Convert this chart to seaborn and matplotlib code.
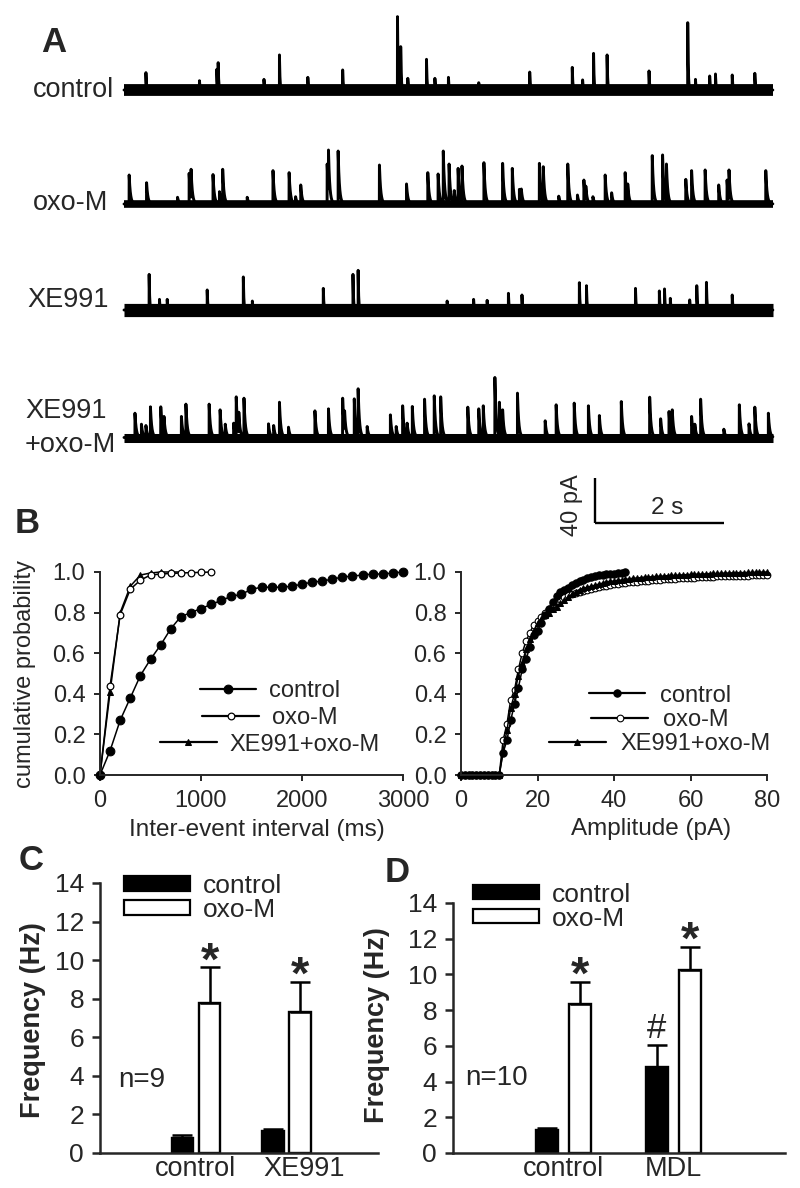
import numpy as np
import pandas as pd
import matplotlib
matplotlib.use("Agg")
import matplotlib.pyplot as plt
import seaborn as sns
from matplotlib.patches import Patch
from matplotlib.ticker import FormatStrFormatter
from matplotlib.transforms import ScaledTranslation

# ------------------------------------------------------------------ data
# Panel A : spontaneous events (time in s, peak amplitude in pA above baseline)
TRACE_DURATION = 10.06
TRACE_NAMES = ["control", "oxo-M", "XE991", "XE991\n+oxo-M"]

CONTROL_T = [0.34, 1.17, 1.44, 1.46, 2.17, 2.41, 2.85, 3.39, 4.24, 4.29, 4.40, 4.69, 4.82,
             5.03, 5.50, 6.29, 6.95, 7.11, 7.28, 7.49, 8.14, 8.74, 8.86, 9.08, 9.17, 9.43, 9.78]
CONTROL_A = [15.5, 8.3, 18.5, 24.4, 9.5, 31.3, 11.3, 17.9, 65.5, 38.7, 10.4, 27.4, 10.4,
             11.3, 6.5, 16.0, 20.2, 9.0, 32.7, 31.3, 17.0, 60.1, 9.5, 12.5, 14.3, 13.4, 14.9]

OXO_T = [0.08, 0.35, 0.83, 1.01, 1.04, 1.38, 1.48, 1.53, 1.91, 2.31, 2.56, 2.66, 2.74,
         3.15, 3.17, 3.32, 3.96, 4.38, 4.71, 4.87, 4.95, 5.04, 5.12, 5.18, 5.24, 5.58,
         5.87, 6.02, 6.13, 6.16, 6.44, 6.50, 6.74, 6.88, 7.03, 7.13, 7.16, 7.27, 7.46,
         7.56, 7.77, 7.81, 8.19, 8.35, 8.41, 8.71, 8.80, 9.01, 9.22, 9.35, 9.38, 9.95]
OXO_A = [25.9, 19.0, 6.0, 27.4, 31.0, 26.3, 11.0, 31.0, 6.0, 29.8, 28.0, 6.5, 17.0,
         35.7, 48.2, 47.3, 34.8, 17.9, 28.0, 26.8, 47.3, 35.7, 12.0, 31.8, 33.9, 36.9,
         36.3, 31.8, 13.1, 13.4, 36.3, 33.3, 7.0, 35.7, 8.0, 21.4, 16.0, 6.5, 25.9,
         10.0, 28.0, 17.9, 43.2, 43.8, 35.7, 22.0, 29.8, 30.4, 17.0, 21.4, 30.4, 29.8]

XE_T = [0.39, 0.55, 0.67, 1.29, 1.85, 1.99, 3.09, 3.55, 3.63, 5.01, 5.42, 5.63, 5.96,
        6.17, 7.06, 7.17, 7.93, 8.30, 8.38, 8.47, 8.77, 8.88, 9.03, 9.43]
XE_A = [31.8, 9.5, 9.5, 17.9, 29.5, 8.0, 19.3, 31.8, 35.4, 8.0, 9.5, 8.6, 14.9,
        13.4, 24.4, 21.7, 19.3, 17.0, 18.8, 10.4, 9.0, 21.7, 24.7, 13.4]

XEOXO_T = [0.17, 0.27, 0.34, 0.41, 0.57, 0.62, 0.89, 0.96, 1.32, 1.49, 1.57, 1.70, 1.74,
           1.78, 1.86, 2.24, 2.32, 2.41, 2.55, 2.96, 3.17, 3.39, 3.42, 3.57, 3.63, 3.77,
           4.13, 4.22, 4.32, 4.39, 4.47, 4.66, 4.81, 4.91, 5.33, 5.50, 5.57, 5.75, 5.82,
           5.87, 6.10, 6.53, 6.70, 6.98, 7.20, 7.37, 7.71, 8.15, 8.32, 8.45, 8.50, 8.80,
           8.85, 8.94, 9.30, 9.54, 9.69, 9.78, 9.99]
XEOXO_A = [21.7, 11.9, 10.7, 27.4, 27.4, 18.8, 18.8, 29.8, 29.8, 24.7, 11.9, 12.8, 36.3,
           22.6, 35.1, 12.2, 10.7, 31.5, 9.2, 23.8, 25.6, 35.1, 23.8, 34.5, 43.5, 9.8,
           20.2, 9.8, 28.3, 12.8, 27.7, 34.2, 37.2, 36.3, 27.1, 25.6, 28.3, 53.6, 31.5,
           24.7, 39.6, 14.9, 29.2, 30.7, 28.3, 19.6, 32.1, 36.0, 16.7, 23.2, 24.7, 18.8,
           11.9, 34.2, 7.4, 29.2, 12.2, 27.1, 21.7]

SCALE_TIME_S = 2
SCALE_CURRENT_PA = 40

# Panel B (left): cumulative probability of inter-event interval
IEI_MS = [0, 100, 200, 300, 400, 500, 600, 700, 800, 900, 1000, 1100, 1200, 1300, 1400,
          1500, 1600, 1700, 1800, 1900, 2000, 2100, 2200, 2300, 2400, 2500, 2600, 2700,
          2800, 2900, 3000]
IEI_CONTROL = [0.00, 0.12, 0.27, 0.38, 0.49, 0.57, 0.64, 0.72, 0.78, 0.80, 0.82, 0.84,
               0.86, 0.88, 0.89, 0.915, 0.925, 0.925, 0.925, 0.93, 0.94, 0.95, 0.955,
               0.965, 0.975, 0.98, 0.985, 0.99, 0.99, 0.995, 1.00]
IEI_OXO = [0.00, 0.44, 0.79, 0.915, 0.96, 0.985, 0.99, 0.993, 0.995, 0.997, 0.998, 1.00]
IEI_XEOXO = [0.00, 0.41, 0.80, 0.93, 0.985, 0.995, 1.00, 1.00, 1.00]

# Panel B (right): cumulative probability of amplitude
AMP_PA = [0, 1, 2, 3, 4, 5, 6, 7, 8, 9, 10, 11, 12, 13, 14, 15, 16, 17, 18, 19, 20,
          21, 22, 23, 24, 25, 26, 27, 28, 29, 30, 31, 32, 33, 34, 35, 36, 37, 38, 39, 40,
          41, 42, 43, 44, 45, 46, 47, 48, 49, 50, 51, 52, 53, 54, 55, 56, 57, 58, 59, 60,
          61, 62, 63, 64, 65, 66, 67, 68, 69, 70, 71, 72, 73, 74, 75, 76, 77, 78, 79, 80]
AMP_CONTROL = [0, 0, 0, 0, 0, 0, 0, 0, 0, 0, 0,
               0.11, 0.17, 0.27, 0.35, 0.43, 0.52, 0.57, 0.63, 0.69, 0.71,
               0.75, 0.79, 0.82, 0.85, 0.88, 0.90, 0.91, 0.92, 0.935, 0.945,
               0.955, 0.96, 0.97, 0.975, 0.98, 0.985, 0.985, 0.99, 0.99, 0.99,
               0.995, 0.995, 1.00]
AMP_OXO = [0, 0, 0, 0, 0, 0, 0, 0, 0, 0, 0,
           0.17, 0.25, 0.37, 0.42, 0.52, 0.60, 0.66, 0.70, 0.74, 0.76,
           0.78, 0.80, 0.82, 0.84, 0.855, 0.865, 0.875, 0.885, 0.89, 0.895,
           0.90, 0.905, 0.91, 0.915, 0.92, 0.925, 0.93, 0.93, 0.935, 0.94,
           0.94, 0.945, 0.945, 0.95, 0.95, 0.95, 0.955, 0.955, 0.955, 0.96,
           0.96, 0.96, 0.965, 0.965, 0.965, 0.965, 0.97, 0.97, 0.97, 0.97,
           0.972, 0.975, 0.975, 0.975, 0.975, 0.977, 0.978, 0.978, 0.98, 0.98,
           0.98, 0.98, 0.982, 0.982, 0.982, 0.983, 0.984, 0.985, 0.985, 0.985]
AMP_XEOXO = [0, 0, 0, 0, 0, 0, 0, 0, 0, 0, 0,
             0.12, 0.22, 0.33, 0.40, 0.49, 0.55, 0.62, 0.67, 0.71, 0.75,
             0.77, 0.79, 0.80, 0.82, 0.83, 0.845, 0.86, 0.875, 0.89, 0.90,
             0.91, 0.92, 0.925, 0.93, 0.935, 0.94, 0.945, 0.95, 0.955, 0.955,
             0.96, 0.96, 0.965, 0.965, 0.97, 0.97, 0.972, 0.975, 0.975, 0.977,
             0.978, 0.98, 0.98, 0.982, 0.983, 0.984, 0.985, 0.986, 0.987, 0.988,
             0.989, 0.99, 0.99, 0.991, 0.992, 0.993, 0.993, 0.994, 0.995, 0.995,
             0.996, 0.996, 0.997, 0.997, 0.998, 0.998, 0.999, 0.999, 1.00, 1.00]

# Panel C / D : frequency (Hz), mean and SEM
C_GROUPS = ["control", "XE991"]
C_CONTROL = [0.78, 1.13]
C_CONTROL_SEM = [0.17, 0.14]
C_OXO = [7.76, 7.30]
C_OXO_SEM = [1.86, 1.59]
C_MARKS = ["", "", "*", "*"]          # control bars, then oxo-M bars
C_N = "n=9"

D_GROUPS = ["control", "MDL"]
D_CONTROL = [1.30, 4.84]
D_CONTROL_SEM = [0.08, 1.19]
D_OXO = [8.32, 10.24]
D_OXO_SEM = [1.27, 1.31]
D_MARKS = ["", "#", "*", "*"]
D_N = "n=10"

CONDITIONS = ["control", "oxo-M"]

# ------------------------------------------------------------------ style
sns.set_style("ticks")
plt.rcParams["font.family"] = ["Liberation Sans", "DejaVu Sans"]
plt.rcParams["axes.linewidth"] = 1.5
plt.rcParams["xtick.major.width"] = 1.5
plt.rcParams["ytick.major.width"] = 1.5
plt.rcParams["xtick.direction"] = "out"
plt.rcParams["ytick.direction"] = "out"

W, H = 800, 1188
fig = plt.figure(figsize=(W / 100, H / 100), dpi=100)
fig.patch.set_facecolor("white")


def rect(l, t, r, b):
    return [l / W, 1 - b / H, (r - l) / W, (b - t) / H]


def fpos(x, y):
    return x / W, 1 - y / H


# ------------------------------------------------------------------ panel A
PX_PER_S = 64.5
PX_PER_PA = 1.12
A_LEFT_PX = 124
A_BOTTOM_PX = 540
axA = fig.add_axes(rect(0, 0, 800, A_BOTTOM_PX))
axA.set_xlim(-A_LEFT_PX / PX_PER_S, (W - A_LEFT_PX) / PX_PER_S)
axA.set_ylim(0, A_BOTTOM_PX / PX_PER_PA)
axA.axis("off")

baseline_px = [90, 204, 310, 437.5]
band_pt = [8.5, 5.5, 9.5, 6.5]
taus = [0.008, 0.02, 0.008, 0.02]
events = [(CONTROL_T, CONTROL_A), (OXO_T, OXO_A), (XE_T, XE_A), (XEOXO_T, XEOXO_A)]


def build_trace(times, peaks, tau):
    grid = np.union1d(np.linspace(0, TRACE_DURATION, 6001), np.asarray(times))
    y = np.zeros_like(grid)
    for ti, pk in sorted(zip(times, peaks)):
        m = grid >= ti
        i0 = int(np.argmax(m))
        inc = max(pk - y[i0], 0.0)
        y[m] += inc * np.exp(-(grid[m] - ti) / tau)
    return grid, y


for (tt, aa), bpx, bw, tau in zip(events, baseline_px, band_pt, taus):
    off = (A_BOTTOM_PX - bpx) / PX_PER_PA
    sns.lineplot(x=[0, TRACE_DURATION], y=[off, off], ax=axA, color="black",
                 linewidth=bw, solid_capstyle="butt", estimator=None)
    g, y = build_trace(tt, aa, tau)
    sns.lineplot(x=g, y=y + off, ax=axA, color="black", linewidth=2.1,
                 estimator=None, sort=False)

label_pos = [(33, 90), (33, 203), (27, 300), (25, 428)]
for name, (lx, ly) in zip(TRACE_NAMES, label_pos):
    fig.text(*fpos(lx, ly), name, ha="left", va="center", fontsize=19.5,
             linespacing=1.4)

# scale bar
sx0 = (595 - A_LEFT_PX) / PX_PER_S
sy0 = (A_BOTTOM_PX - 523) / PX_PER_PA
axA.plot([sx0, sx0], [sy0, sy0 + SCALE_CURRENT_PA], color="black", lw=1.7,
         solid_capstyle="butt")
axA.plot([sx0, sx0 + SCALE_TIME_S], [sy0, sy0], color="black", lw=1.7,
         solid_capstyle="butt")
fig.text(*fpos(572, 505), f"{SCALE_CURRENT_PA} pA", rotation=90, ha="center",
         va="center", fontsize=17)
fig.text(*fpos(667, 508), f"{SCALE_TIME_S} s", ha="center", va="center", fontsize=17.5)

# panel letters
for letter, (lx, ly) in zip("ABCD", [(41, 42), (15, 523), (19, 860), (385, 872)]):
    fig.text(*fpos(lx, ly), letter, ha="left", va="center", fontsize=25,
             fontweight="bold")

# ------------------------------------------------------------------ panel B
B_FS = 17


def style_b(ax):
    sns.despine(ax=ax)
    ax.tick_params(labelsize=B_FS, length=4.5, width=1.4, pad=6)
    ax.set_ylim(0, 1)
    ax.set_yticks([0, 0.2, 0.4, 0.6, 0.8, 1.0])
    ax.yaxis.set_major_formatter(FormatStrFormatter("%.1f"))
    for s in ax.spines.values():
        s.set_linewidth(1.4)


def centered_legend(ax, handles, labels, anchor, spacing, pad):
    leg = ax.legend(handles, labels, loc="center", bbox_to_anchor=anchor,
                    frameon=False, fontsize=B_FS, handlelength=2.4, numpoints=1,
                    handletextpad=pad, labelspacing=spacing, borderpad=0)
    for col in leg._legend_handle_box.get_children():
        col.align = "center"
    for ln in leg.get_lines():
        ln.set_linewidth(1.6)
    return leg


axB1 = fig.add_axes(rect(100, 572, 403, 775))
sns.lineplot(x=IEI_MS[:len(IEI_XEOXO)], y=IEI_XEOXO, ax=axB1, color="black",
             marker="^", markersize=4.3, markeredgecolor="black", linewidth=1.1,
             clip_on=False, estimator=None)
h_xe1 = axB1.get_lines()[-1]
sns.lineplot(x=IEI_MS[:len(IEI_OXO)], y=IEI_OXO, ax=axB1, color="black", marker="o",
             markersize=4.8, markerfacecolor="white", markeredgecolor="black",
             markeredgewidth=0.9, linewidth=1.1, clip_on=False, estimator=None)
h_oxo1 = axB1.get_lines()[-1]
sns.lineplot(x=IEI_MS, y=IEI_CONTROL, ax=axB1, color="black", marker="o",
             markersize=6.3, markeredgecolor="black", linewidth=1.1, clip_on=False,
             estimator=None)
h_ctl1 = axB1.get_lines()[-1]
axB1.set_xlim(0, 3000)
axB1.set_xticks([0, 1000, 2000, 3000])
style_b(axB1)
axB1.set_xlabel("Inter-event interval (ms)", fontsize=B_FS + 0.5)
axB1.set_ylabel("cumulative probability", fontsize=B_FS)
axB1.xaxis.set_label_coords(0.518, -0.215)
axB1.yaxis.set_label_coords(-0.211, 0.5)
centered_legend(axB1, [h_ctl1, h_oxo1, h_xe1], ["control", "oxo-M", "XE991+oxo-M"],
                (0.561, 0.281), 0.2, 0.55)

axB2 = fig.add_axes(rect(461, 572, 767, 775))
sns.lineplot(x=AMP_PA, y=AMP_OXO, ax=axB2, color="black", marker="o", markersize=4.8,
             markerfacecolor="white", markeredgecolor="black", markeredgewidth=0.8,
             linewidth=1.1, clip_on=False, estimator=None)
h_oxo2 = axB2.get_lines()[-1]
sns.lineplot(x=AMP_PA, y=AMP_XEOXO, ax=axB2, color="black", marker="^", markersize=4.3,
             markeredgecolor="black", linewidth=1.1, clip_on=False, estimator=None)
h_xe2 = axB2.get_lines()[-1]
sns.lineplot(x=AMP_PA[:len(AMP_CONTROL)], y=AMP_CONTROL, ax=axB2, color="black",
             marker="o", markersize=5.3, markeredgecolor="black", linewidth=1.1,
             clip_on=False, estimator=None)
h_ctl2 = axB2.get_lines()[-1]
axB2.set_xlim(0, 80)
axB2.set_xticks([0, 20, 40, 60, 80])
style_b(axB2)
axB2.set_xlabel("Amplitude (pA)", fontsize=B_FS + 0.5)
axB2.set_ylabel("")
axB2.xaxis.set_label_coords(0.621, -0.212)
centered_legend(axB2, [h_ctl2, h_oxo2, h_xe2], ["control", "oxo-M", "XE991+oxo-M"],
                (0.65, 0.271), 0.1, 0.62)

# ------------------------------------------------------------------ panels C, D
CD_FS = 19


def bar_panel(ax, groups, ctrl, ctrl_sem, oxo, oxo_sem, marks, gap, xlim, ntext,
              npos, leg_anchor, ylab_coords, label_shift_px):
    df = pd.DataFrame({"group": groups * 2,
                       "cond": [CONDITIONS[0]] * len(groups) + [CONDITIONS[1]] * len(groups),
                       "value": ctrl + oxo})
    sns.barplot(data=df, x="group", y="value", hue="cond", hue_order=CONDITIONS,
                palette={"control": "black", "oxo-M": "white"}, saturation=1,
                edgecolor="black", linewidth=1.7, width=0.6, gap=gap, errorbar=None,
                legend=False, ax=ax)
    bars = [p for p in ax.patches if p.get_width() > 0][:len(df)]
    sems = ctrl_sem + oxo_sem
    xc = np.array([b.get_x() + b.get_width() / 2 for b in bars])
    hts = np.array([b.get_height() for b in bars])
    ax.errorbar(xc, hts, yerr=[np.zeros(len(sems)), sems], fmt="none", ecolor="black",
                elinewidth=1.8, capsize=7.5, capthick=1.8, zorder=3)
    for x, h, s, mk in zip(xc, hts, sems, marks):
        if mk == "*":
            ax.annotate("*", (x, h + s), xytext=(0, -5), textcoords="offset points",
                        ha="center", va="baseline", fontsize=34, fontweight="bold")
        elif mk == "#":
            ax.annotate("#", (x, h + s), xytext=(0, 5), textcoords="offset points",
                        ha="center", va="baseline", fontsize=25)
    ax.set_xlim(*xlim)
    ax.set_ylim(0, 14)
    ax.set_yticks([0, 2, 4, 6, 8, 10, 12, 14])
    sns.despine(ax=ax)
    for s in ax.spines.values():
        s.set_linewidth(1.8)
    ax.tick_params(axis="y", labelsize=CD_FS, length=5.5, width=1.8, pad=6)
    ax.tick_params(axis="x", labelsize=CD_FS + 0.5, length=0, pad=2)
    for lbl, sh in zip(ax.get_xticklabels(), label_shift_px):
        lbl.set_transform(lbl.get_transform() +
                          ScaledTranslation(sh / 100, 0, fig.dpi_scale_trans))
    ax.set_xlabel("")
    ax.set_ylabel("Frequency (Hz)", fontsize=CD_FS + 0.5, fontweight="bold")
    ax.yaxis.set_label_coords(*ylab_coords)
    ax.text(npos[0], npos[1], ntext, transform=ax.transAxes, fontsize=CD_FS + 1,
            ha="left", va="center")
    handles = [Patch(facecolor="black", edgecolor="black", linewidth=1.6),
               Patch(facecolor="white", edgecolor="black", linewidth=1.6)]
    ax.legend(handles, CONDITIONS, loc="center left", bbox_to_anchor=leg_anchor,
              frameon=False, fontsize=CD_FS, handlelength=2.5, handleheight=0.45,
              labelspacing=0.0, handletextpad=0.5, borderpad=0, borderaxespad=0)


axC = fig.add_axes(rect(100, 883, 378, 1153))
bar_panel(axC, C_GROUPS, C_CONTROL, C_CONTROL_SEM, C_OXO, C_OXO_SEM, C_MARKS, 0.2,
          (-1.06, 2.01), C_N, (0.065, 0.27), (0.086, 0.945), (-0.194, 0.493), [0, 18])

axD = fig.add_axes(rect(453, 903, 785, 1153))
bar_panel(axD, D_GROUPS, D_CONTROL, D_CONTROL_SEM, D_OXO, D_OXO_SEM, D_MARKS, 0.333,
          (-1.005, 2.014), D_N, (0.036, 0.30), (0.06, 0.985), (-0.19, 0.512), [0, 0])

fig.savefig("out.png", dpi=100, facecolor="white")
